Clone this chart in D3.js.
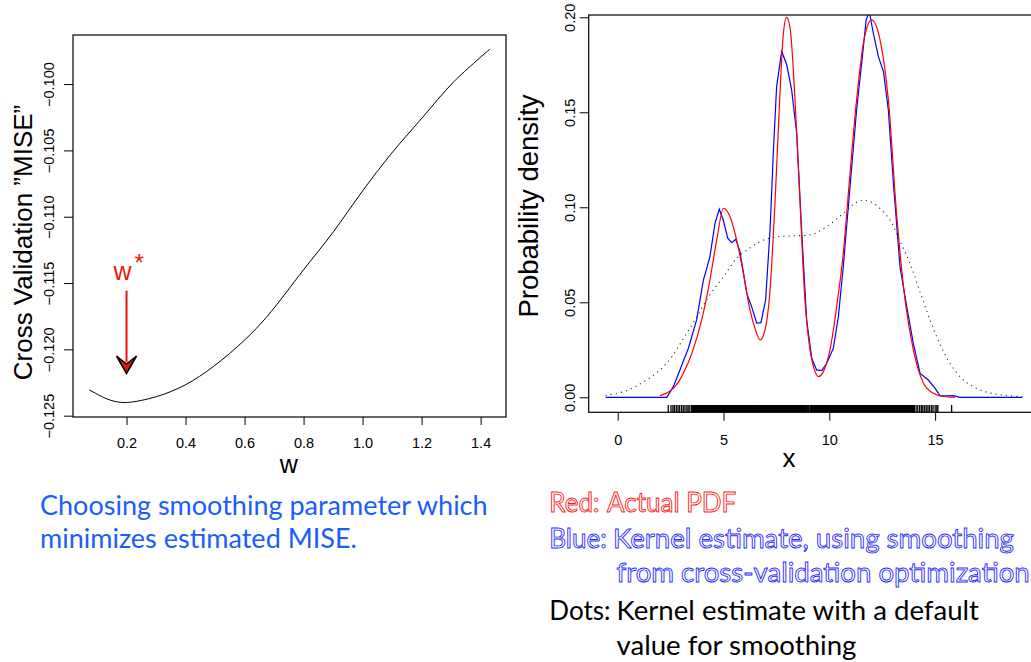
<!DOCTYPE html>
<html>
<head>
<meta charset="utf-8">
<script src="https://cdn.jsdelivr.net/npm/d3@7"></script>
<style>
  body { margin: 0; background: #fff; }
  svg { display: block; }
  .tick text { font-family: "Liberation Sans", Arial, sans-serif; font-size: 14.5px; fill: #000; }
  .note { font-family: Lato, "Open Sans", sans-serif; }
</style>
</head>
<body>
<svg id="chart" width="1031" height="662"></svg>
<script>
// ---- left panel: cross validation score vs smoothing w ----
const cv_w = [0.073, 0.13, 0.16, 0.200, 0.302, 0.399, 0.494, 0.601, 0.676, 0.80, 0.902, 1.0, 1.094, 1.201, 1.31, 1.432];
const cv_score = [-0.12305, -0.12370, -0.12392, -0.12401, -0.12356, -0.12268, -0.12130, -0.11928, -0.11753, -0.11400, -0.11111, -0.10805, -0.10533, -0.10257, -0.09980, -0.09736];
const cv_x_ticks = [0.2, 0.4, 0.6, 0.8, 1.0, 1.2, 1.4];
const cv_y_ticks = [-0.125, -0.120, -0.115, -0.110, -0.105, -0.100];
const w_star = 0.2;

// ---- right panel: densities ----
const pdf_x = [2.0, 2.3, 2.63, 2.9, 3.10, 3.50, 3.97, 4.36, 4.68, 5.0, 5.31, 5.62, 5.94, 6.25, 6.49, 6.73, 6.96, 7.2, 7.44, 7.67, 7.83, 7.98, 8.14, 8.38, 8.61, 8.85, 9.09, 9.33, 9.48, 9.72, 10.03, 10.35, 10.66, 10.98, 11.29, 11.61, 12.0, 12.4, 12.79, 13.19, 13.58, 13.97, 14.45, 14.92, 15.39, 15.94];
const pdf_y = [0.0009, 0.0022, 0.0047, 0.0085, 0.0126, 0.0230, 0.0407, 0.0618, 0.0828, 0.0995, 0.0950, 0.0828, 0.0653, 0.0460, 0.0363, 0.0302, 0.0354, 0.0565, 0.1039, 0.1600, 0.1916, 0.2000, 0.1950, 0.1565, 0.1039, 0.0512, 0.0249, 0.0135, 0.0109, 0.0135, 0.0249, 0.0477, 0.0758, 0.1179, 0.1565, 0.1863, 0.1986, 0.1880, 0.1565, 0.0951, 0.0512, 0.0249, 0.0074, 0.0021, 0.0004, 0.0];

const cv_kde_x = [-0.57, 2.32, 2.63, 2.94, 3.34, 3.73, 4.05, 4.36, 4.60, 4.80, 4.99, 5.20, 5.39, 5.58, 5.78, 6.10, 6.33, 6.57, 6.77, 6.99, 7.20, 7.36, 7.51, 7.75, 7.99, 8.22, 8.46, 8.70, 8.93, 9.17, 9.40, 9.64, 9.88, 10.19, 10.43, 10.66, 10.98, 11.29, 11.58, 11.74, 11.89, 12.08, 12.32, 12.56, 12.79, 13.03, 13.34, 13.66, 13.97, 14.29, 14.68, 15.0, 15.23, 15.55, 15.86, 16.18, 19.12];
const cv_kde_y = [0.0, 0.0, 0.0056, 0.0144, 0.0258, 0.0407, 0.0617, 0.0740, 0.0916, 0.0990, 0.0933, 0.0837, 0.0814, 0.0832, 0.0766, 0.0547, 0.0477, 0.0390, 0.0393, 0.0512, 0.0880, 0.1300, 0.1635, 0.1820, 0.1750, 0.1618, 0.1390, 0.0863, 0.0407, 0.0205, 0.0144, 0.0140, 0.0179, 0.0258, 0.0425, 0.0688, 0.1109, 0.1512, 0.1810, 0.1986, 0.2030, 0.1916, 0.1793, 0.1714, 0.1512, 0.1126, 0.0688, 0.0477, 0.0284, 0.0126, 0.0091, 0.0047, 0.0009, 0.0007, 0.0009, 0.0, 0.0];

const def_kde_x = [-0.57, 0.43, 1.05, 1.8, 2.47, 3.0, 3.65, 4.3, 5.0, 5.62, 6.3, 6.9, 7.6, 8.4, 9.2, 9.9, 10.66, 11.2, 11.6, 12.1, 12.87, 13.3, 13.81, 14.3, 14.76, 15.23, 15.7, 16.25, 16.8, 17.5, 18.3, 19.12];
const def_kde_y = [0.0009, 0.0035, 0.0070, 0.0125, 0.0200, 0.0290, 0.0407, 0.0530, 0.0635, 0.0730, 0.0790, 0.0828, 0.0845, 0.0850, 0.0858, 0.0900, 0.0968, 0.1020, 0.1038, 0.1020, 0.0933, 0.0830, 0.0705, 0.0550, 0.0407, 0.0280, 0.0179, 0.0100, 0.0056, 0.0025, 0.0010, 0.0004];

const rug_x = [2.39, 2.52, 2.61, 2.68, 2.77, 2.85, 2.93, 3.02, 3.10, 3.18, 3.27, 3.33, 3.41, 3.50,
  3.56, 3.63, 3.69, 3.74, 3.81, 3.88, 3.93, 3.99, 4.06, 4.12, 4.17, 4.24, 4.31, 4.36, 4.42, 4.49, 4.55, 4.60, 4.67, 4.73, 4.78, 4.85, 4.91, 4.96, 5.03, 5.09, 5.15, 5.21, 5.28, 5.33, 5.40, 5.46, 5.52, 5.59, 5.65, 5.71, 5.78, 5.84, 5.91, 5.97, 6.04, 6.11, 6.18, 6.26, 6.33, 6.41, 6.50, 6.58, 6.67, 6.76, 6.84, 6.92, 6.99, 7.06, 7.12, 7.18, 7.24, 7.30, 7.35, 7.41, 7.46, 7.52, 7.57, 7.63, 7.68, 7.74, 7.79, 7.85, 7.90, 7.96, 8.01, 8.07, 8.12, 8.18, 8.23, 8.29, 8.35, 8.41, 8.47, 8.54, 8.61, 8.68, 8.76, 8.84,
  8.93, 9.02, 9.13, 9.21, 9.27, 9.35, 9.42, 9.50, 9.56, 9.64, 9.71, 9.80, 9.87, 9.95, 10.04, 10.12, 10.19, 10.27, 10.34,
  10.40, 10.46, 10.52, 10.58, 10.63, 10.69, 10.74, 10.80, 10.85, 10.91, 10.96, 11.02, 11.07, 11.13, 11.18, 11.23, 11.29, 11.34, 11.40, 11.45, 11.50, 11.56, 11.61, 11.66, 11.72, 11.77, 11.82, 11.88, 11.93, 11.98, 12.04, 12.09, 12.14, 12.20, 12.25, 12.30, 12.36, 12.41, 12.47, 12.52, 12.57, 12.63, 12.68, 12.74, 12.80, 12.86, 12.92, 12.98, 13.04, 13.11, 13.17, 13.24, 13.31, 13.38, 13.45, 13.53, 13.61, 13.69, 13.77, 13.86, 13.95,
  14.02, 14.10, 14.18, 14.27, 14.35, 14.42, 14.50, 14.58, 14.66, 14.73, 14.82, 14.90, 15.00, 15.08, 15.13, 15.78];
const dens_x_ticks = [0, 5, 10, 15];
const dens_y_ticks = [0.00, 0.05, 0.10, 0.15, 0.20];

const svg = d3.select("#chart");
svg.append("rect").attr("width", 1031).attr("height", 662).attr("fill", "#fff");

// ================= left panel =================
const xL = d3.scaleLinear().domain([0.0186, 1.486]).range([73, 506]);
const yL = d3.scaleLinear().domain([-0.1251, -0.0963]).range([417, 35]);

const axL_x = svg.append("g").attr("transform", "translate(0,417)")
	.call(d3.axisBottom(xL).tickValues(cv_x_ticks).tickSize(8).tickPadding(13).tickFormat(d3.format(".1f")));
axL_x.select(".domain").remove();

const axL_y = svg.append("g").attr("transform", "translate(73,0)")
	.call(d3.axisLeft(yL).tickValues(cv_y_ticks).tickSize(9).tickFormat(d3.format(".3f")));
axL_y.select(".domain").remove();
axL_y.selectAll(".tick text")
	.attr("x", null).attr("dy", null)
	.attr("text-anchor", "middle")
	.attr("transform", "translate(-19,0) rotate(-90)");

svg.append("rect").attr("x", 73).attr("y", 35).attr("width", 433).attr("height", 382)
	.attr("fill", "none").attr("stroke", "#000").attr("stroke-width", 1.2);

svg.append("path")
	.datum(cv_w.map((w, i) => [w, cv_score[i]]))
	.attr("fill", "none").attr("stroke", "#000").attr("stroke-width", 1)
	.attr("d", d3.line().x(d => xL(d[0])).y(d => yL(d[1])).curve(d3.curveCatmullRom));

// w* arrow
const ax = xL(w_star);
svg.append("line").attr("x1", ax).attr("x2", ax).attr("y1", 290.7).attr("y2", 362)
	.attr("stroke", "#e8120c").attr("stroke-width", 2);
svg.append("path")
	.attr("d", `M${ax},373.5 L${ax - 10},356 L${ax},364 L${ax + 10},356 Z`)
	.attr("fill", "#e8120c").attr("stroke", "#000").attr("stroke-width", 1.6).attr("stroke-linejoin", "miter");
const wst = svg.append("text").attr("x", ax - 13).attr("y", 280)
	.attr("font-family", "'Liberation Sans', Arial, sans-serif").attr("font-size", 25).attr("fill", "#f0140c");
wst.append("tspan").text("w");
wst.append("tspan").attr("dx", 3).attr("dy", -9).attr("font-size", 24).text("*");

svg.append("text").attr("x", xL(0.75)).attr("y", 473).attr("text-anchor", "middle")
	.attr("font-family", "'Liberation Sans', Arial, sans-serif").attr("font-size", 25).text("w");
svg.append("text").attr("transform", "translate(31.5,242.5) rotate(-90)").attr("text-anchor", "middle")
	.attr("font-family", "'Liberation Sans', Arial, sans-serif").attr("font-size", 26)
	.text("Cross Validation \u201DMISE\u201D");

// ================= right panel =================
const xR = d3.scaleLinear().domain([-1.37, 19.9]).range([588.7, 1038.8]);
const yR = d3.scaleLinear().domain([-0.0079, 0.2012]).range([412.3, 15]);

svg.append("clipPath").attr("id", "clipR").append("rect")
	.attr("x", 588.7).attr("y", 15).attr("width", 450).attr("height", 397.3);

const axR_x = svg.append("g").attr("transform", "translate(0,412.3)")
	.call(d3.axisBottom(xR).tickValues(dens_x_ticks).tickSize(8.4).tickPadding(14).tickFormat(d3.format("d")));
axR_x.select(".domain").remove();

const axR_y = svg.append("g").attr("transform", "translate(588.7,0)")
	.call(d3.axisLeft(yR).tickValues(dens_y_ticks).tickSize(9).tickFormat(d3.format(".2f")));
axR_y.select(".domain").remove();
axR_y.selectAll(".tick text")
	.attr("x", null).attr("dy", null)
	.attr("text-anchor", "middle")
	.attr("transform", "translate(-13.7,0) rotate(-90)");

const plotR = svg.append("g").attr("clip-path", "url(#clipR)");

const lineR = d3.line().x(d => xR(d[0])).y(d => yR(d[1]));

plotR.append("path")
	.datum(def_kde_x.map((x, i) => [x, def_kde_y[i]]))
	.attr("fill", "none").attr("stroke", "#333").attr("stroke-width", 1.1)
	.attr("stroke-dasharray", "1.2,4")
	.attr("d", lineR.curve(d3.curveCatmullRom));

plotR.append("path")
	.datum(cv_kde_x.map((x, i) => [x, cv_kde_y[i]]))
	.attr("fill", "none").attr("stroke", "#0000ff").attr("stroke-width", 1.2)
	.attr("d", lineR.curve(d3.curveLinear));

plotR.append("path")
	.datum(pdf_x.map((x, i) => [x, pdf_y[i]]))
	.attr("fill", "none").attr("stroke", "#ff0000").attr("stroke-width", 1.2)
	.attr("d", lineR.curve(d3.curveMonotoneX));

plotR.selectAll("line.rug").data(rug_x).enter()
	.append("line").attr("class", "rug")
	.attr("x1", d => xR(d)).attr("x2", d => xR(d))
	.attr("y1", 412.3).attr("y2", 405)
	.attr("stroke", "#000").attr("stroke-width", d => (d > 3.5 && d < 14) ? 2.4 : 1.3);

svg.append("rect").attr("x", 588.7).attr("y", 15).attr("width", 450).attr("height", 397.3)
	.attr("fill", "none").attr("stroke", "#000").attr("stroke-width", 1.2);

svg.append("text").attr("x", xR(8.1)).attr("y", 466.7).attr("text-anchor", "middle")
	.attr("font-family", "'Liberation Sans', Arial, sans-serif").attr("font-size", 26).text("x");
svg.append("text").attr("transform", "translate(538,206) rotate(-90)").attr("text-anchor", "middle")
	.attr("font-family", "'Liberation Sans', Arial, sans-serif").attr("font-size", 27.5)
	.text("Probability density");

// ================= notes =================
const noteL = svg.append("g").attr("class", "note").attr("fill", "#1a5cff").attr("font-size", 27);
noteL.append("text").attr("x", 40).attr("y", 515).text("Choosing smoothing parameter which");
noteL.append("text").attr("x", 40).attr("y", 548).text("minimizes estimated MISE.");

const notes = [
	{lab: "Red:", body: "Actual PDF", bx: 607, y: 511.7, col: "#ff1a1a", hollow: true, fs: 26},
	{lab: "Blue:", body: "Kernel estimate, using smoothing", bx: 613, y: 548.3, col: "#2a2aff", hollow: true, fs: 27.6},
	{lab: "", body: "from cross-validation optimization", bx: 616.5, y: 581.7, col: "#2a2aff", hollow: true, fs: 27.6},
	{lab: "Dots:", body: "Kernel estimate with a default", bx: 616.5, y: 620, col: "#000", hollow: false, fs: 27.6},
	{lab: "", body: "value for smoothing", bx: 616.5, y: 655, col: "#000", hollow: false, fs: 27.6}
];
const noteR = svg.append("g").attr("class", "note");
notes.forEach(n => {
	[[549.3, n.lab, 26], [n.bx, n.body, n.fs]].forEach(([x, t, fs]) => {
		if (!t) return;
		noteR.append("text").attr("x", x).attr("y", n.y).attr("font-size", fs).text(t)
			.attr("fill", n.hollow ? "#fff" : n.col)
			.attr("stroke", n.hollow ? n.col : "none")
			.attr("stroke-width", n.hollow ? 0.9 : 0);
	});
});
</script>
</body>
</html>
